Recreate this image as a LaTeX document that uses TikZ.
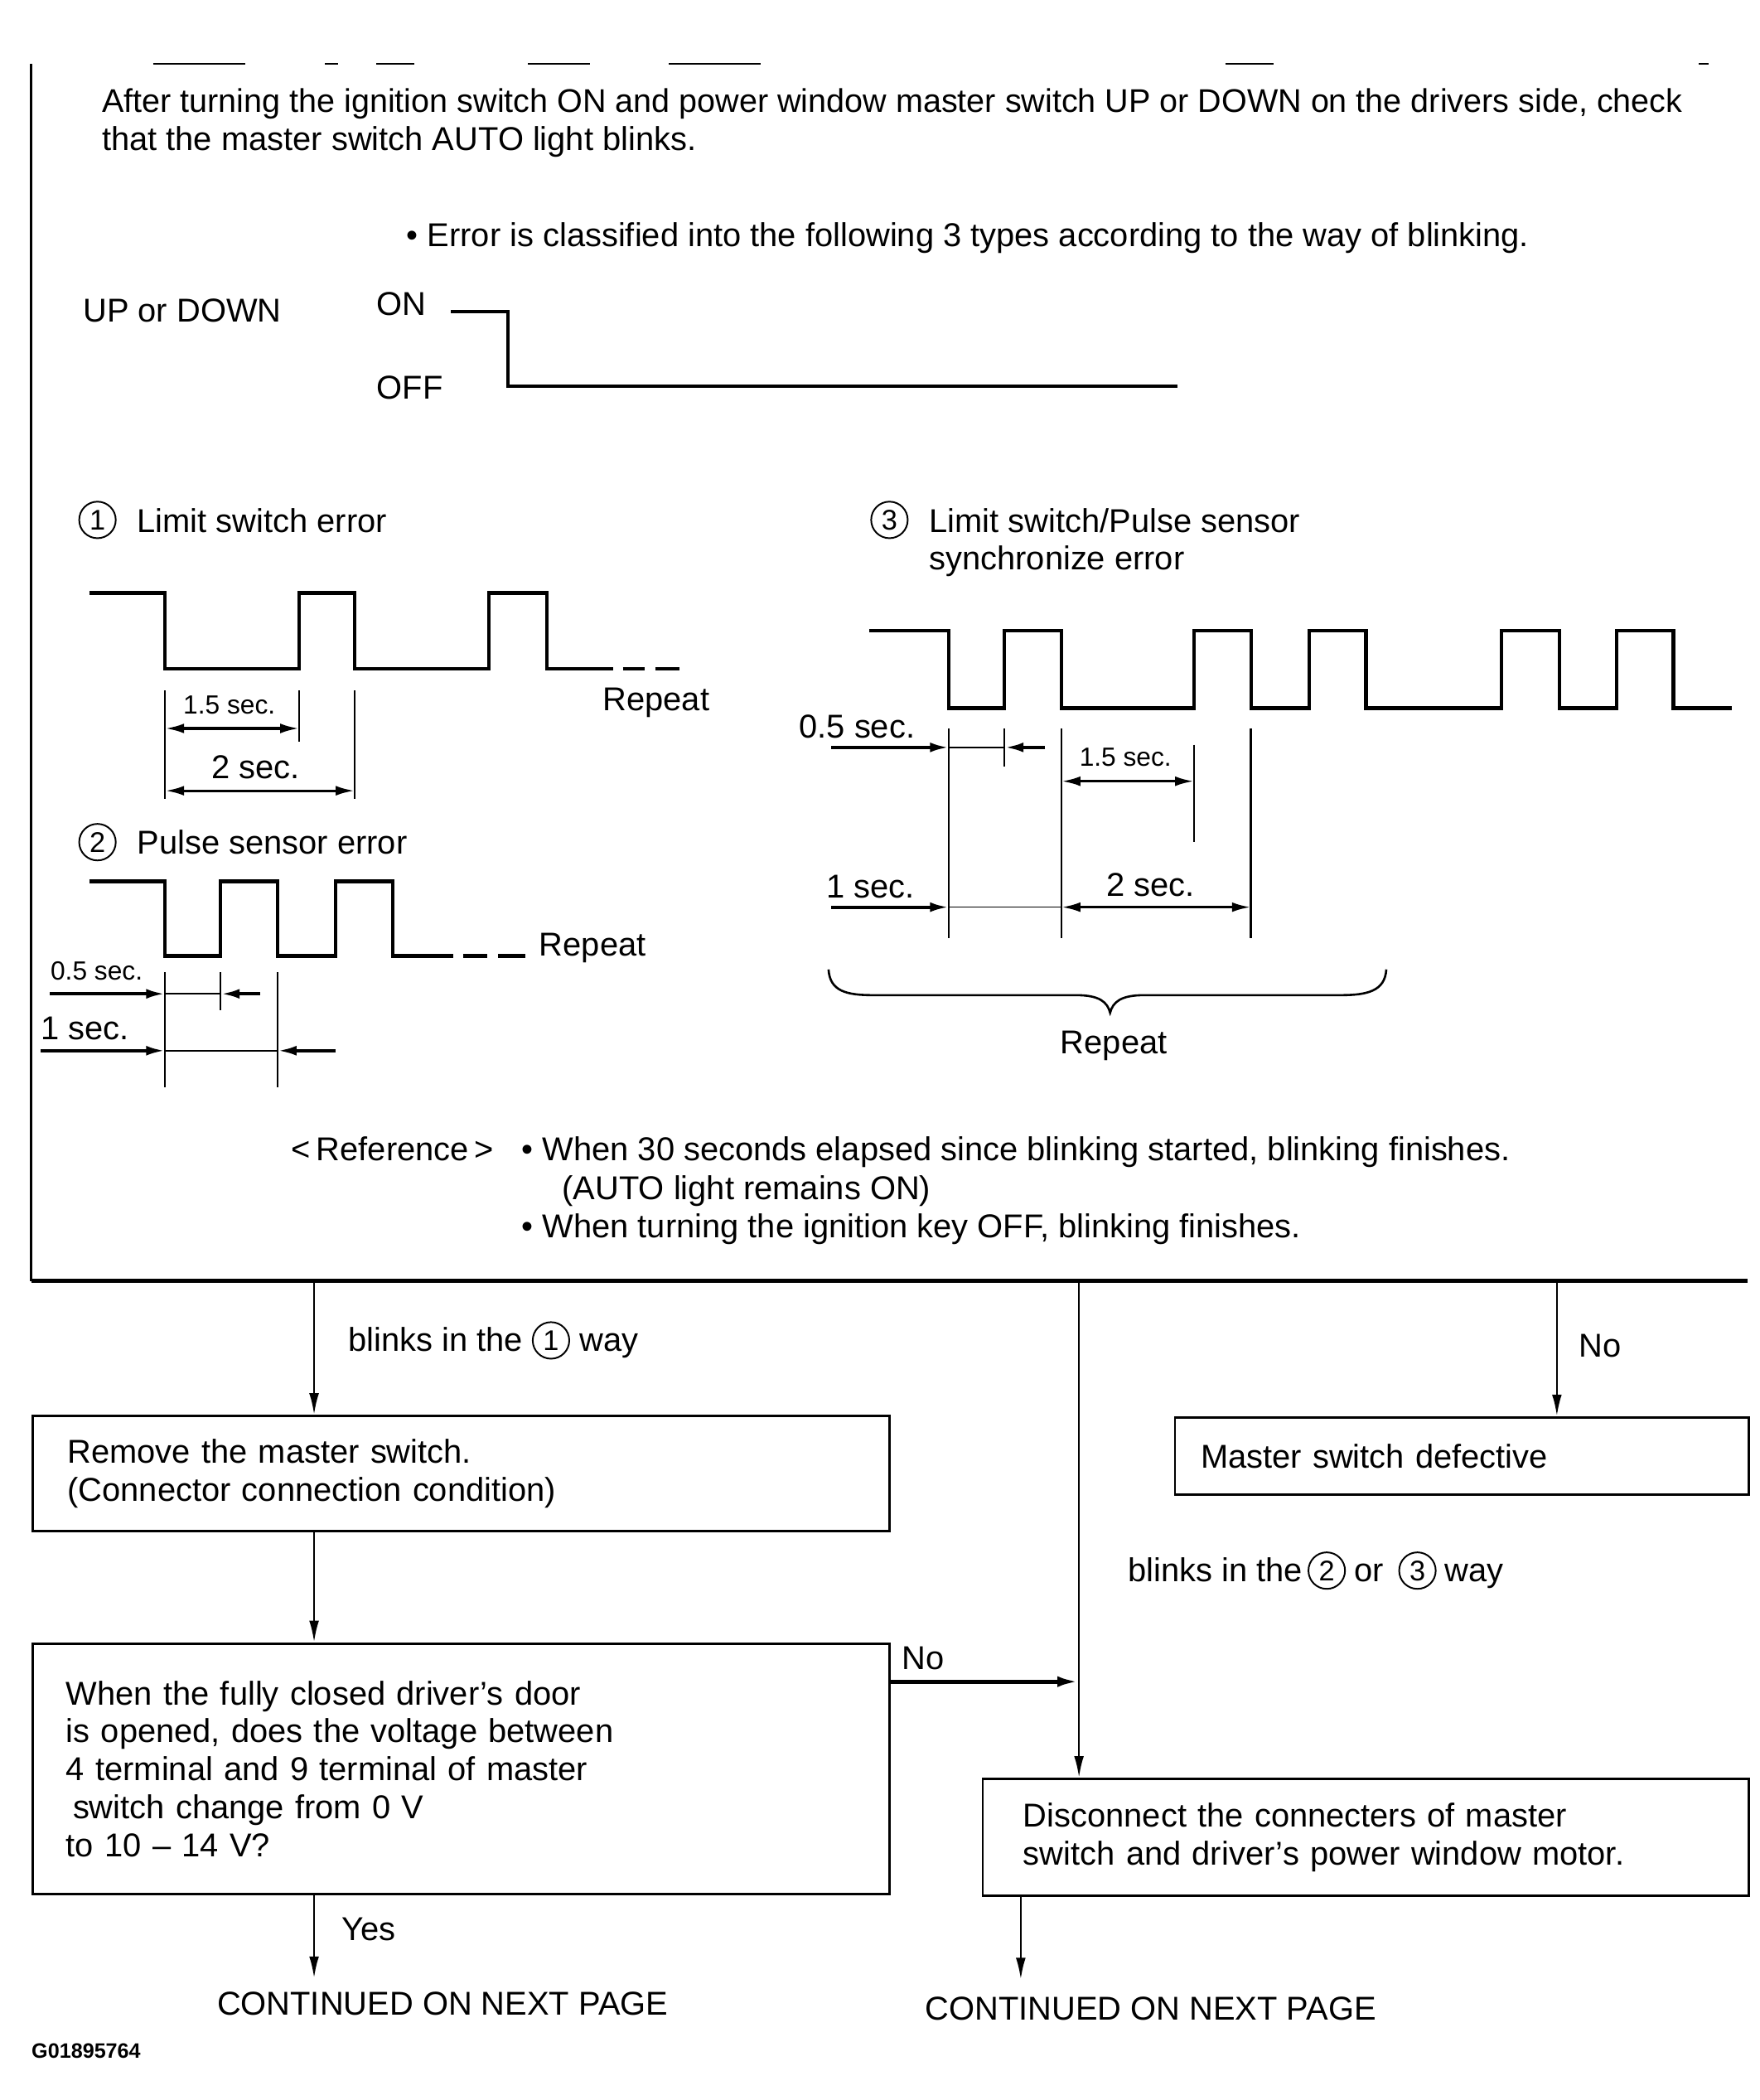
\documentclass[tikz,border=0pt]{standalone}
\usepackage{fontspec}
\setmainfont{Liberation Sans}
\usetikzlibrary{arrows.meta}
\begin{document}
\begin{tikzpicture}[x=0.5pt,y=-0.5pt,
  txt/.style={anchor=base west, inner sep=0pt, font=\fontsize{12.2}{14}\selectfont},
  smalltxt/.style={anchor=base west, inner sep=0pt, font=\fontsize{9.7}{11}\selectfont},
  idtxt/.style={anchor=base west, inner sep=0pt, font=\fontsize{7.7}{9}\selectfont\bfseries},
  wave/.style={line width=1.3pt, line join=miter},
  tick/.style={line width=0.7pt},
  dimthin/.style={line width=0.5pt},
  dimin/.style={line width=1.2pt, -{Latex[length=7pt,width=3.6pt]}},
  dimboth/.style={line width=1.0pt, {Latex[length=7pt,width=3.6pt]}-{Latex[length=7pt,width=3.6pt]}},
  cnum/.style={circle, draw, line width=0.6pt, inner sep=0pt, minimum size=13.5pt, font=\fontsize{10.5}{10.5}\selectfont},
  fbox/.style={draw, line width=0.9pt, anchor=north west, align=left, font=\fontsize{12.2}{14}\selectfont},
  arr/.style={line width=0.8pt, -{Latex[length=8pt,width=3.6pt]}},
  frame/.style={line width=0.8pt},
  scrap/.style={line width=0.5pt}
]
\useasboundingbox (0,0) rectangle (1300,1551);

% ---------- frame ----------
\draw[frame] (23,47) -- (23,946);
\draw[line width=1.3pt] (23,946) coordinate (fl) -- (1291,946) coordinate (fr);
\foreach \a/\b in {113/181,240/250,278/306,390/436,494/562,905/941,1255/1262}
  \draw[scrap] (\a,47) -- (\b,47);

% ---------- header texts ----------
\node[txt, font=\fontsize{12.1}{14}\selectfont] (t1) at (75,83) {After turning the ignition switch ON and power window master switch UP or DOWN on the drivers side, check};
\node[txt] (t2) at (75,111) {that the master switch AUTO light blinks.};
\node[txt] (t3) at (300,182) {\textbullet\ Error is classified into the following 3 types according to the way of blinking.};

\node[txt] (updown) at (61,238) {UP or DOWN};
\node[txt] (on) at (278,233) {ON};
\node[txt] (off) at (278,295) {OFF};
\draw[wave] (333,230) -- (375,230) -- (375,285) -- (870,285);

% ---------- 1 Limit switch error ----------
\node[cnum] (c1) at (72,384) {1};
\node[txt] (l1) at (101,393) {Limit switch error};
\draw[wave] (66,438) -- (122,438) -- (122,494) -- (221,494) -- (221,438) -- (262,438) -- (262,494)
  -- (361,494) -- (361,438) -- (404,438) -- (404,494) -- (453,494);
\draw[wave] (460,494) -- (476,494);
\draw[wave] (484,494) -- (502,494);
\node[txt] (rep1) at (445,525) {Repeat};
\draw[tick] (122,510) -- (122,590);
\draw[tick] (221,510) -- (221,548);
\draw[tick] (262,510) -- (262,590);
\node[smalltxt] (d1a) at (135,527) {1.5 sec.};
\draw[dimboth] (122,538) -- (221,538);
\node[txt] (d1b) at (156,575) {2 sec.};
\draw[dimboth] (122,584) -- (262,584);

% ---------- 2 Pulse sensor error ----------
\node[cnum] (c2) at (72,622) {2};
\node[txt] (l2) at (101,631) {Pulse sensor error};
\draw[wave] (66,651) -- (122,651) -- (122,706) -- (163,706) -- (163,651) -- (205,651) -- (205,706)
  -- (248,706) -- (248,651) -- (290,651) -- (290,706) -- (335,706);
\draw[wave] (342,706) -- (360,706);
\draw[wave] (368,706) -- (388,706);
\node[txt] (rep2) at (398,706) {Repeat};
\draw[tick] (122,718) -- (122,803);
\draw[tick] (163,718) -- (163,746);
\draw[tick] (205,718) -- (205,803);
\node[smalltxt] (d2a) at (37,724) {0.5 sec.};
\draw[dimin] (37,734) -- (122,734);
\draw[dimthin] (122,734) -- (163,734);
\draw[dimin] (192,734) -- (163,734);
\node[txt] (d2b) at (30,768) {1 sec.};
\draw[dimin] (30,776) -- (122,776);
\draw[dimthin] (122,776) -- (205,776);
\draw[dimin] (248,776) -- (205,776);

% ---------- 3 Limit switch / Pulse sensor synchronize error ----------
\node[cnum] (c3) at (657,384) {3};
\node[txt] (l3a) at (686,393) {Limit switch/Pulse sensor};
\node[txt] (l3b) at (686,421) {synchronize error};
\draw[wave] (642,466) -- (701,466) -- (701,523) -- (742,523) -- (742,466) -- (784,466) -- (784,523)
  -- (882,523) -- (882,466) -- (924,466) -- (924,523) -- (967,523) -- (967,466) -- (1009,466)
  -- (1009,523) -- (1109,523) -- (1109,466) -- (1152,466) -- (1152,523) -- (1194,523)
  -- (1194,466) -- (1236,466) -- (1236,523) -- (1279,523);
\draw[tick] (701,538) -- (701,693);
\draw[tick] (742,538) -- (742,566);
\draw[tick] (784,538) -- (784,693);
\draw[tick] (924,538) -- (924,693);
\draw[tick] (882,550) -- (882,622);
\node[txt] (d3a) at (590,545) {0.5 sec.};
\draw[dimin] (614,552) -- (701,552);
\draw[dimthin] (701,552) -- (742,552);
\draw[dimin] (772,552) -- (742,552);
\node[smalltxt] (d3b) at (797,566) {1.5 sec.};
\draw[dimboth] (784,577) -- (882,577);
\node[txt] (d3c) at (610,663) {1 sec.};
\draw[dimin] (614,670) -- (701,670);
\draw[dimthin] (701,670) -- (784,670);
\node[txt] (d3d) at (817,662) {2 sec.};
\draw[dimboth] (784,670) -- (924,670);
% brace
\draw[line width=0.8pt] (612,716) .. controls (613,732) and (625,735) .. (645,735)
  -- (795,735) .. controls (812,735) and (818,740) .. (820,748)
  .. controls (822,740) and (828,735) .. (845,735)
  -- (990,735) .. controls (1010,735) and (1023,732) .. (1024,716);
\node[txt] (rep3) at (783,778) {Repeat};

% ---------- reference ----------
\node[txt] (ref) at (215,857) {<\,Reference\,>};
\node[txt] (ref1) at (385,857) {\textbullet\ When 30 seconds elapsed since blinking started, blinking finishes.};
\node[txt] (ref2) at (415,886) {(AUTO light remains ON)};
\node[txt] (ref3) at (385,914) {\textbullet\ When turning the ignition key OFF, blinking finishes.};

% ---------- flowchart ----------
\coordinate (f1) at (232,946);
\coordinate (f2) at (797,946);
\coordinate (f3) at (1150,946);

\node[fbox, minimum width=316.5pt, minimum height=42.5pt, inner xsep=13pt, text width=290.5pt] (box1) at (23,1045)
  {Remove the master switch.\\(Connector connection condition)};
\node[fbox, minimum width=316.5pt, minimum height=92.5pt, inner xsep=12.5pt, text width=291.5pt] (box2) at (23,1213)
  {When the fully closed driver’s door\\is opened, does the voltage between\\4 terminal and 9 terminal of master\\\hspace*{2.5pt}switch change from 0 V\\to 10 -- 14 V?};
\node[fbox, minimum width=212pt, minimum height=28.5pt, inner xsep=9.5pt, text width=193pt] (box3) at (867,1046)
  {Master switch defective};
\node[fbox, minimum width=283pt, minimum height=43pt, inner xsep=15pt, text width=253pt] (box4) at (725,1313)
  {Disconnect the connecters of master\\switch and driver’s power window motor.};

\node[txt] (cont1) at (160,1488) {CONTINUED ON NEXT PAGE};
\node[txt] (cont2) at (683,1492) {CONTINUED ON NEXT PAGE};
\node[idtxt] (gid) at (23,1520) {G01895764};

% arrows
\draw[arr] (f1) -- (f1 |- box1.north);
\draw[arr] (box1.south -| f1) -- (box2.north -| f1);
\draw[arr] (box2.south -| f1) -- (232,1461) coordinate (e1);
\draw[arr] (f3) -- (f3 |- box3.north);
\draw[arr] (f2) -- (f2 |- box4.north);
\coordinate (j) at (797,1242);
\draw[line width=1.5pt, -{Latex[length=8pt,width=4pt]}] (box2.east |- j) -- (j);
\coordinate (f4) at (754,1399);
\draw[arr] (box4.south -| f4) -- (754,1462) coordinate (e2);

% labels of connectors
\node[txt] (lb1) at (257,998) {blinks in the};
\node[cnum] (lb1c) at (407,990) {1};
\node[txt] (lb1w) at (428,998) {way};
\node[txt] (lno1) at (1166,1002) {No};
\node[txt] (lb2) at (833,1168) {blinks in the};
\node[cnum] (lb2c) at (980,1160) {2};
\node[txt] (lb2o) at (1000,1168) {or};
\node[cnum] (lb3c) at (1047,1160) {3};
\node[txt] (lb2w) at (1067,1168) {way};
\node[txt] (lno2) at (666,1233) {No};
\node[txt] (lyes) at (252,1433) {Yes};
\end{tikzpicture}
\end{document}
